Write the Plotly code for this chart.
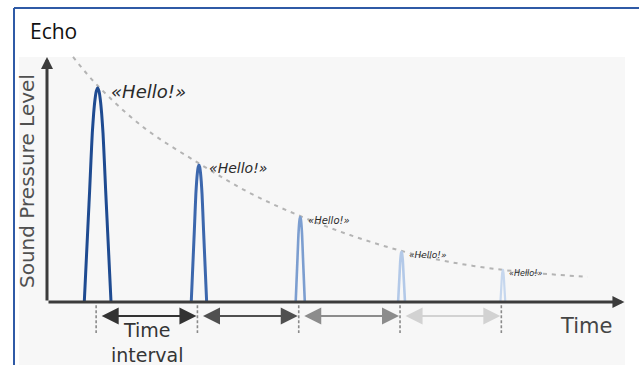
import plotly.graph_objects as go

# ---------------- data ----------------
echo_labels = ["«Hello!»", "«Hello!»", "«Hello!»", "«Hello!»", "«Hello!»"]
echo_times = [0.5, 1.5, 2.5, 3.5, 4.5]          # time of each echo (interval units)
echo_levels = [100, 64, 39.7, 23.4, 15]         # peak sound pressure level
echo_halfwidths = [0.132, 0.076, 0.045, 0.034, 0.024]
echo_colors = ["#1f4b91", "#3c67ad", "#7c9ed0", "#b3c9e8", "#c6d7ee"]
echo_widths = [3, 3, 2.6, 2.6, 2.2]
label_sizes = [18, 14, 10, 9, 8]

# normalised pulse profile (offset from centre -> fraction of peak)
pulse_u = [0, 0.1, 0.2, 0.3, 0.4, 0.5, 0.6, 0.7, 0.8, 0.9, 1.0]
pulse_v = [1, 0.985, 0.945, 0.88, 0.79, 0.66, 0.52, 0.39, 0.26, 0.13, 0]

# decay envelope
decay_t = [0.257, 0.494, 0.948, 1.51, 2.004, 2.498, 2.991, 3.504, 3.978, 4.502, 4.936, 5.34]
decay_lv = [114.5, 101.4, 81.8, 64.5, 50.9, 40.2, 31.3, 23.8, 18.7, 15.0, 13.1, 11.7]

interval_colors = ["#333333", "#505050", "#8c8c8c", "#d2d2d2"]

axis_t_end = 5.7
axis_lv_end = 114.5
interval_lv = -6.5

# ---------------- geometry of the page ----------------
W, H = 639, 365
X0_PX, PX_PER_T = 47.0, 101.3
Y0_PX, PX_PER_LV = 302.0, 2.14
x_range = [(0 - X0_PX) / PX_PER_T, (W - X0_PX) / PX_PER_T]
y_range = [(Y0_PX - H) / PX_PER_LV, (Y0_PX - 0) / PX_PER_LV]

fig = go.Figure()

# decay envelope
fig.add_trace(go.Scatter(x=decay_t, y=decay_lv, mode="lines",
                         line=dict(color="#b4b4b4", width=2, dash="4px,5px", shape="spline"),
                         hoverinfo="skip", showlegend=False))

# pulses
for t, lv, hw, col, lw in zip(echo_times, echo_levels, echo_halfwidths, echo_colors, echo_widths):
    us = [-u for u in pulse_u[::-1]] + pulse_u[1:]
    vs = pulse_v[::-1] + pulse_v[1:]
    xs = [t + u * hw for u in us]
    ys = [lv * v for v in vs]
    fig.add_trace(go.Scatter(x=xs, y=ys, mode="lines",
                             line=dict(color=col, width=lw, shape="spline", smoothing=0.6),
                             hoverinfo="skip", showlegend=False))

# dashed interval ticks
for t in echo_times:
    fig.add_trace(go.Scatter(x=[t - 0.015, t - 0.015], y=[-1.5, -14.5], mode="lines",
                             line=dict(color="#8a8a8a", width=1.6, dash="3px,2px"),
                             hoverinfo="skip", showlegend=False))

annotations = []
# axes arrows
annotations.append(dict(x=0, y=axis_lv_end, ax=0, ay=0, xref="x", yref="y", axref="x", ayref="y",
                        showarrow=True, arrowhead=2, arrowsize=0.8, arrowwidth=3,
                        arrowcolor="#3c3c3c", text=""))
annotations.append(dict(x=axis_t_end, y=0, ax=0, ay=0, xref="x", yref="y", axref="x", ayref="y",
                        showarrow=True, arrowhead=2, arrowsize=0.8, arrowwidth=3,
                        arrowcolor="#3c3c3c", text=""))

# interval arrows
gap = 0.025
for i in range(len(echo_times) - 1):
    annotations.append(dict(x=echo_times[i + 1] - gap, y=interval_lv,
                            ax=echo_times[i] + gap, ay=interval_lv,
                            xref="x", yref="y", axref="x", ayref="y",
                            showarrow=True, arrowhead=2, startarrowhead=2, arrowside="end+start",
                            arrowsize=1.7, startarrowsize=1.7, arrowwidth=2,
                            arrowcolor=interval_colors[i], text=""))

# hello labels
for t, lv, hw, txt, fs in zip(echo_times, echo_levels, echo_halfwidths, echo_labels, label_sizes):
    annotations.append(dict(x=t + hw * 0.6 + 0.03, y=lv - 1.5, xref="x", yref="y",
                            text="<i>" + txt + "</i>", showarrow=False,
                            xanchor="left", yanchor="middle",
                            font=dict(family="DejaVu Sans", size=fs, color="#2a2a2a")))

# axis texts
annotations.append(dict(x=(27 - X0_PX) / PX_PER_T, y=(Y0_PX - 181) / PX_PER_LV, xref="x", yref="y",
                        text="Sound Pressure Level", textangle=-90, showarrow=False,
                        font=dict(family="DejaVu Sans", size=20, color="#505050")))
annotations.append(dict(x=(586 - X0_PX) / PX_PER_T, y=(Y0_PX - 326) / PX_PER_LV, xref="x", yref="y",
                        text="Time", showarrow=False,
                        font=dict(family="DejaVu Sans", size=21, color="#454545")))
annotations.append(dict(x=(147 - X0_PX) / PX_PER_T, y=(Y0_PX - 342) / PX_PER_LV, xref="x", yref="y",
                        text="Time<br>interval", showarrow=False,
                        font=dict(family="DejaVu Sans", size=19, color="#353535")))

# title
annotations.append(dict(x=28 / W, y=1 - 31 / H, xref="paper", yref="paper",
                        text="Echo", showarrow=False, xanchor="left", yanchor="middle",
                        font=dict(family="Open Sans", size=21, color="#111111")))

shapes = [
    dict(type="rect", xref="paper", yref="paper", x0=19 / W, x1=625 / W, y0=0, y1=1 - 57 / H,
         fillcolor="#f7f7f7", line=dict(width=0), layer="below"),
    dict(type="line", xref="paper", yref="paper", x0=14 / W, x1=1, y0=1 - 8 / H, y1=1 - 8 / H,
         line=dict(color="#2f5aa6", width=2)),
    dict(type="line", xref="paper", yref="paper", x0=14 / W, x1=14 / W, y0=0, y1=1 - 8 / H,
         line=dict(color="#2f5aa6", width=2)),
]

fig.update_layout(
    width=W, height=H,
    margin=dict(l=0, r=0, t=0, b=0, pad=0),
    paper_bgcolor="white", plot_bgcolor="rgba(0,0,0,0)",
    xaxis=dict(range=x_range, visible=False, fixedrange=True),
    yaxis=dict(range=y_range, visible=False, fixedrange=True),
    annotations=annotations, shapes=shapes, showlegend=False,
)

fig.write_html("out.html", config={"displayModeBar": False},
               post_script="document.body.style.margin='0';document.body.style.overflow='hidden';")
